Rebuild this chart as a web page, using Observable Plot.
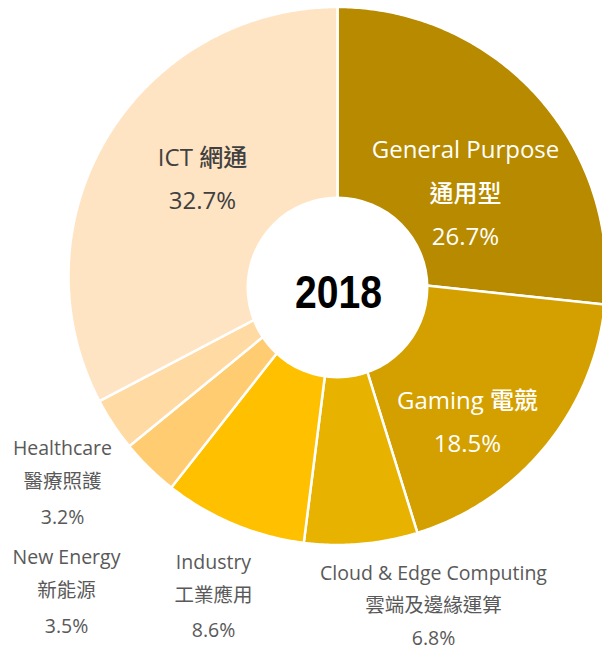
<!DOCTYPE html>
<html>
<head>
<meta charset="utf-8">
<script src="https://cdn.jsdelivr.net/npm/d3@7"></script>
<script src="https://cdn.jsdelivr.net/npm/@observablehq/plot@0.6"></script>
<style>
  html, body { margin: 0; padding: 0; background: #fff; }
  #chart svg { display: block; }
</style>
</head>
<body>
<div id="chart"></div>
<script>
// ---- data ----
const categories = ["General Purpose", "Gaming", "Cloud & Edge Computing", "Industry", "New Energy", "Healthcare", "ICT"];
const namesZh = ["通用型", "電競", "雲端及邊緣運算", "工業應用", "新能源", "醫療照護", "網通"];
const shares = [26.7, 18.5, 6.8, 8.6, 3.5, 3.2, 32.7];
const year = "2018";

// ---- styling / layout ----
const colors = ["#B78A00", "#D4A000", "#E8B200", "#FFC000", "#FFCC72", "#FFDAA3", "#FFE4C3"];
const W = 602, H = 650;
const cx = 337, cy = 275.5, R = 269;
const hole = {x: 337, y: 287, r: 91};
const latin = "'Open Sans','Noto Sans CJK TC',sans-serif";

// slice polygons derived from shares
const slices = [];
let acc = 0;
shares.forEach((v, i) => {
  const a0 = acc / 100 * 2 * Math.PI, a1 = (acc + v) / 100 * 2 * Math.PI;
  acc += v;
  slices.push({cat: categories[i], x: cx, y: cy});
  const n = Math.max(8, Math.ceil((a1 - a0) / 0.01));
  for (let k = 0; k <= n; k++) {
    const t = a0 + (a1 - a0) * k / n;
    slices.push({cat: categories[i], x: cx + R * Math.sin(t), y: cy - R * Math.cos(t)});
  }
});

const pct = v => v.toFixed(1) + "%";
const idx = c => categories.indexOf(c);

// label placement (layout)
const insideLabels = [
  {i: idx("General Purpose"), x: 465, ys: [150, 194, 237], lines: i => [categories[i], namesZh[i], pct(shares[i])], fill: "#ffffff"},
  {i: idx("Gaming"), x: 467, ys: [401, 444], lines: i => [categories[i] + " " + namesZh[i], pct(shares[i])], fill: "#ffffff"},
  {i: idx("ICT"), x: 202, ys: [158, 201], lines: i => [categories[i] + " " + namesZh[i], pct(shares[i])], fill: "#404040"}
];
const outsideLabels = [
  {i: idx("Healthcare"), x: 62, ys: [448, 481, 517]},
  {i: idx("New Energy"), x: 66, ys: [557, 590, 626]},
  {i: idx("Industry"), x: 213, ys: [562, 595, 630]},
  {i: idx("Cloud & Edge Computing"), x: 433, ys: [573, 605, 638]}
];

const inRows = insideLabels.flatMap(L => L.lines(L.i).map((t, k) => ({text: t, x: L.x, y: L.ys[k], fill: L.fill})));
const outRows = outsideLabels.flatMap(L => [categories[L.i], namesZh[L.i], pct(shares[L.i])].map((t, k) => ({text: t, x: L.x, y: L.ys[k]})));

const chart = Plot.plot({
  width: W, height: H, margin: 0,
  style: {background: "#fff"},
  x: {domain: [0, W], range: [0, W], axis: null},
  y: {domain: [0, H], range: [0, H], axis: null},
  color: {domain: categories, range: colors},
  marks: [
    Plot.line(slices, {x: "x", y: "y", z: "cat", fill: "cat", stroke: "#ffffff", strokeWidth: 2.5, curve: "linear-closed", strokeLinejoin: "round"}),
    Plot.dot([hole], {x: "x", y: "y", r: hole.r, fill: "#ffffff", stroke: null}),
    Plot.text([year], {x: () => 338, y: () => 293, text: d => d, fontSize: 46, fontWeight: "bold", fontFamily: "'Liberation Sans','Arial',sans-serif", fill: "#000"}),
    Plot.text(inRows, {x: "x", y: "y", text: "text", fill: d => d.fill, fontSize: 24, fontWeight: 500, fontFamily: latin}),
    Plot.text(outRows, {x: "x", y: "y", text: "text", fill: "#595959", fontSize: 19.5, fontFamily: latin})
  ]
});
// condense the year (narrow bold face)
chart.querySelectorAll("text").forEach(el => {
  if (el.textContent === year) {
    const t = el.getAttribute("transform") || "";
    el.setAttribute("transform", `translate(338,0) scale(0.85,1) translate(-338,0) ${t}`);
  }
});
document.getElementById("chart").appendChild(chart);
</script>
</body>
</html>
